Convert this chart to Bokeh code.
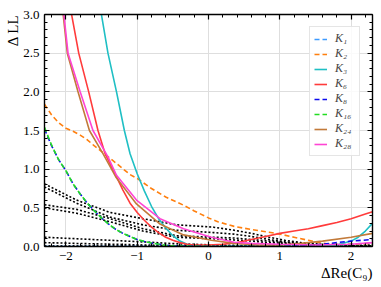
from bokeh.plotting import figure
from bokeh.models import (Range1d, LinearAxis, Legend, LegendItem, FixedTicker, Title,
                          CustomLabelingPolicy)
from bokeh.embed import file_html
from bokeh.resources import INLINE

# ---- data ----
x_K1 = [-2.3, -1.5, -0.5, 0.5, 1.5, 1.8, 2.0, 2.3]
y_K1 = [0.0, 0.0, 0.0, 0.0, 0.01, 0.02, 0.03, 0.045]

x_K2 = [-2.3, -2.2, -2.1, -2.0, -1.9, -1.8, -1.7, -1.6, -1.46, -1.3, -1.1, -1.0, -0.8, -0.6, -0.34,
        -0.2, 0.0, 0.13, 0.36, 0.6, 0.85, 1.0, 1.2, 1.4, 1.55, 1.7, 2.0, 2.3]
y_K2 = [1.84, 1.70, 1.60, 1.53, 1.49, 1.44, 1.38, 1.30, 1.20, 1.08, 0.93, 0.88, 0.75, 0.64, 0.53,
        0.46, 0.37, 0.32, 0.26, 0.22, 0.185, 0.16, 0.12, 0.08, 0.05, 0.03, 0.03, 0.04]

x_K3 = [-1.52, -1.41, -1.29, -1.18, -1.10, -1.0, -0.9, -0.8, -0.7, -0.6, -0.5, -0.4, -0.3, -0.2, 0.0,
        0.5, 1.0, 1.5, 1.8, 2.0, 2.1, 2.2, 2.3]
y_K3 = [3.1, 2.5, 2.0, 1.5, 1.2, 0.94, 0.72, 0.52, 0.36, 0.24, 0.14, 0.07, 0.03, 0.01, 0.0,
        0.0, 0.0, 0.0, 0.02, 0.07, 0.12, 0.2, 0.3]

x_K6 = [-1.94, -1.82, -1.68, -1.55, -1.45, -1.3, -1.2, -1.1, -1.0, -0.9, -0.8, -0.7, -0.6, -0.5, -0.4,
        -0.3, -0.2, 0.0, 0.2, 0.4, 0.6, 0.8, 1.0, 1.2, 1.4, 1.6, 1.8, 2.0, 2.2, 2.3]
y_K6 = [3.1, 2.5, 2.0, 1.5, 1.2, 0.92, 0.73, 0.56, 0.44, 0.34, 0.25, 0.18, 0.12, 0.08, 0.05,
        0.03, 0.02, 0.02, 0.03, 0.05, 0.09, 0.13, 0.17, 0.2, 0.23, 0.27, 0.31, 0.36, 0.42, 0.45]

x_K8 = [-2.3, -2.2, -2.1, -2.0, -1.9, -1.8, -1.7, -1.6, -1.5, -1.4, -1.3, -1.2, -1.1, -1.0, -0.9,
        -0.8, -0.7, -0.6, -0.5, 0.0, 0.5, 1.0, 1.5, 1.8, 2.0, 2.3]
y_K8 = [1.52, 1.30, 1.12, 0.98, 0.81, 0.68, 0.56, 0.46, 0.37, 0.29, 0.22, 0.17, 0.13, 0.09, 0.065,
        0.045, 0.03, 0.015, 0.008, 0.0, 0.0, 0.0, 0.02, 0.05, 0.07, 0.09]

x_K16 = [-2.3, -2.2, -2.1, -2.0, -1.9, -1.8, -1.7, -1.6, -1.5, -1.4, -1.3, -1.2, -1.1, -1.0, -0.9,
         -0.8, -0.7, -0.6, -0.5, 0.0, 1.0, 2.3]
y_K16 = [1.54, 1.31, 1.12, 0.98, 0.81, 0.68, 0.56, 0.46, 0.37, 0.29, 0.22, 0.17, 0.13, 0.09, 0.065,
         0.045, 0.03, 0.015, 0.008, 0.0, 0.0, 0.0]

x_K24 = [-2.05, -1.98, -1.83, -1.67, -1.48, -1.3, -1.01, -0.68, -0.35, 0.04, 0.36, 0.7, 1.0, 1.3,
         1.6, 2.0, 2.3]
y_K24 = [3.1, 2.5, 2.0, 1.5, 1.2, 0.9, 0.55, 0.29, 0.15, 0.08, 0.04, 0.02, 0.02, 0.04,
         0.07, 0.12, 0.17]

x_K28 = [-2.04, -1.97, -1.80, -1.62, -1.41, -1.29, -1.01, -0.68, -0.35, 0.04, 0.36, 0.6, 1.0,
         1.5, 2.0, 2.3]
y_K28 = [3.1, 2.5, 2.0, 1.5, 1.16, 0.92, 0.6, 0.36, 0.23, 0.12, 0.055, 0.04, 0.03,
         0.02, 0.03, 0.05]

# unlabelled dotted curves
x_dot = [-2.3, -1.85, -1.38, -0.92, -0.45, 0.07, 0.36, 0.6, 0.85, 1.07, 1.3, 1.55, 2.0, 2.3]
y_dotA = [0.81, 0.60, 0.44, 0.36, 0.28, 0.25, 0.21, 0.17, 0.12, 0.08, 0.05, 0.03, 0.02, 0.02]
y_dotB = [0.77, 0.56, 0.38, 0.28, 0.21, 0.18, 0.16, 0.13, 0.09, 0.06, 0.04, 0.02, 0.01, 0.01]
y_dotC = [0.54, 0.48, 0.36, 0.23, 0.14, 0.12, 0.11, 0.09, 0.07, 0.05, 0.03, 0.02, 0.01, 0.01]
y_dotD = [0.50, 0.43, 0.32, 0.20, 0.12, 0.10, 0.085, 0.07, 0.05, 0.04, 0.025, 0.015, 0.01, 0.01]
y_dotE = [0.12, 0.10, 0.08, 0.06, 0.035, 0.02, 0.015, 0.01, 0.008, 0.006, 0.005, 0.005, 0.005, 0.005]
y_dotF = [0.05, 0.04, 0.03, 0.02, 0.01, 0.006, 0.005, 0.004, 0.004, 0.004, 0.004, 0.004, 0.004, 0.004]
y_dotG = [0.008, 0.008, 0.008, 0.008, 0.008, 0.008, 0.008, 0.008, 0.008, 0.008, 0.008, 0.008, 0.008, 0.008]

x_ticks = [-2, -1, 0, 1, 2]
x_tick_labels = ["\u22122", "\u22121", "0", "1", "2"]
y_ticks = [0.0, 0.5, 1.0, 1.5, 2.0, 2.5, 3.0]
y_tick_labels = ["0.0", "0.5", "1.0", "1.5", "2.0", "2.5", "3.0"]
x_label = "\u0394Re(C\u2089)"
y_label = "\u0394 LL"

FONT = "Liberation Serif"

p = figure(width=381, height=287, output_backend="svg", toolbar_location=None,
           x_range=Range1d(-2.3, 2.3), y_range=Range1d(0, 3.0),
           min_border_left=44, min_border_right=9, min_border_top=14, min_border_bottom=41)
p.outline_line_color = None
p.background_fill_color = "white"

# dotted black curves
for yd in [y_dotA, y_dotB, y_dotC, y_dotD, y_dotE, y_dotF, y_dotG]:
    p.line(x_dot, yd, line_color="black", line_width=1.6, line_dash="2 2")

series = [
    ("K\u2081", x_K1, y_K1, "#3d9bff", "5 3"),
    ("K\u2082", x_K2, y_K2, "#ff7f0e", "5 3"),
    ("K\u2083", x_K3, y_K3, "#1fbfc4", "solid"),
    ("K\u2086", x_K6, y_K6, "#ff3b3b", "solid"),
    ("K\u2088", x_K8, y_K8, "#0a0aee", "5 3"),
    ("K\u2081\u2086", x_K16, y_K16, "#22dd22", "5 3"),
    ("K\u2082\u2084", x_K24, y_K24, "#c27a3a", "solid"),
    ("K\u2082\u2088", x_K28, y_K28, "#ff44d4", "solid"),
]
items = []
for name, xs, ys, col, dash in series:
    r = p.line(xs, ys, line_color=col, line_width=1.6, line_dash=dash)
    items.append(LegendItem(label=name, renderers=[r]))

no_labels = CustomLabelingPolicy(code="""
const n = indices.size
for (let i = 0; i < n; i++) indices.unset(i)
return indices
""")

def style_axis(ax, labels=True):
    ax.axis_line_color = "black"
    ax.axis_line_width = 1.4
    ax.major_tick_in = 5
    ax.major_tick_out = 0
    ax.minor_tick_in = 3
    ax.minor_tick_out = 0
    ax.major_tick_line_color = "black"
    ax.minor_tick_line_color = "black"
    ax.major_tick_line_width = 1.2
    ax.minor_tick_line_width = 1.0
    ax.major_label_text_font = FONT
    ax.major_label_text_color = "black"
    if labels:
        ax.major_label_text_font_size = "13px"
        ax.major_label_standoff = 5
    else:
        ax.major_label_text_font_size = "0px"
        ax.major_label_standoff = 0
        ax.major_label_policy = no_labels

xt = FixedTicker(ticks=x_ticks, minor_ticks=[round(-2.2 + 0.2 * i, 1) for i in range(23)])
yt = FixedTicker(ticks=y_ticks, minor_ticks=[round(0.1 * i, 1) for i in range(31)])

p.xaxis.ticker = xt
p.yaxis.ticker = yt
p.xaxis.major_label_overrides = {t: s for t, s in zip(x_ticks, x_tick_labels)}
p.yaxis.major_label_overrides = {t: s for t, s in zip(y_ticks, y_tick_labels)}
style_axis(p.xaxis[0])
style_axis(p.yaxis[0])

top = LinearAxis(ticker=xt)
right = LinearAxis(ticker=yt)
style_axis(top, labels=False)
style_axis(right, labels=False)
p.add_layout(top, "above")
p.add_layout(right, "right")

# axis titles placed at the ends of the axes
xt_title = Title(text=x_label, align="right", text_font=FONT, text_font_size="15px",
                 text_font_style="normal", text_color="black", standoff=0, offset=0)
yt_title = Title(text=y_label, align="right", text_font=FONT, text_font_size="15px",
                 text_font_style="normal", text_color="black", standoff=0, offset=0)
p.add_layout(xt_title, "below")
p.add_layout(yt_title, "left")

p.xgrid.ticker = xt
p.ygrid.ticker = yt
p.grid.grid_line_color = "#dedede"
p.grid.grid_line_width = 1

legend = Legend(items=items, location="top_right")
legend.label_text_font = FONT
legend.label_text_font_size = "12px"
legend.label_text_font_style = "italic"
legend.label_height = 12
legend.glyph_height = 12
legend.glyph_width = 13
legend.label_standoff = 8
legend.spacing = 0
legend.padding = 4
legend.margin = 12
legend.border_line_color = "#cccccc"
legend.border_line_width = 1
legend.background_fill_alpha = 0.85
p.add_layout(legend)

open("out.html", "w").write(file_html(p, INLINE))
